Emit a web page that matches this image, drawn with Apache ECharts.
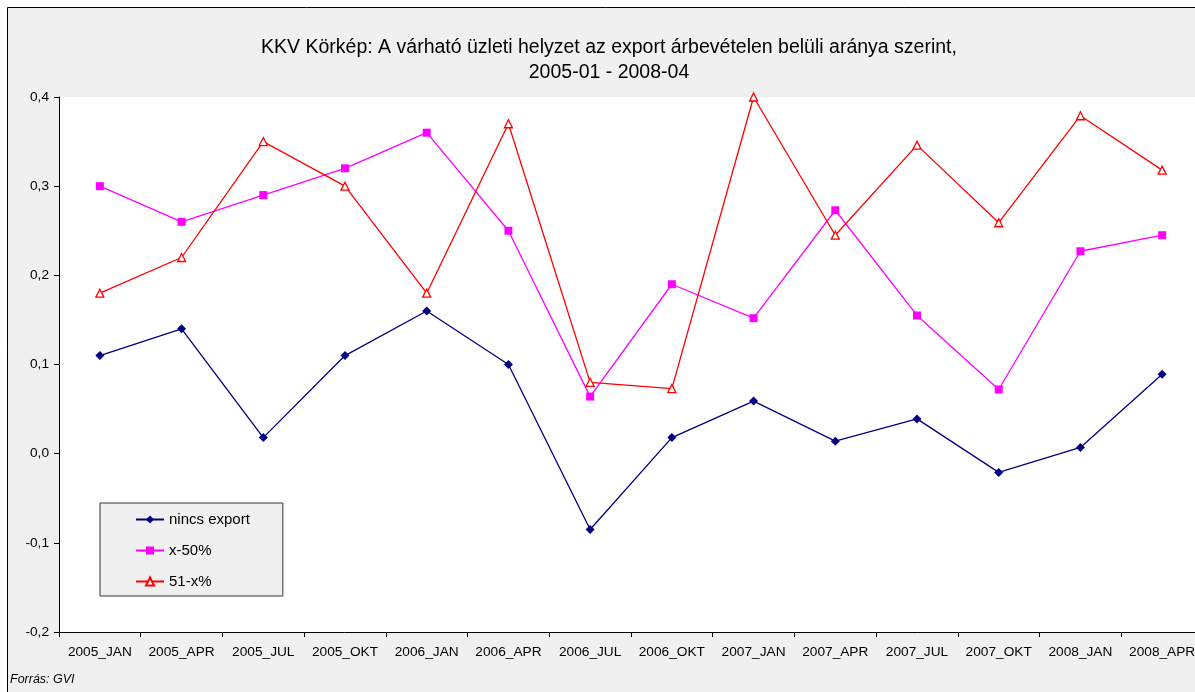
<!DOCTYPE html>
<html>
<head>
<meta charset="utf-8">
<script src="https://cdn.jsdelivr.net/npm/echarts@6/dist/echarts.min.js"></script>
<style>
  html, body { margin: 0; padding: 0; background: #fff; overflow: hidden; }
  #main { width: 1203px; height: 692px; }
</style>
</head>
<body>
<div id="main"></div>
<script>
const categories = ["2005_JAN", "2005_APR", "2005_JUL", "2005_OKT", "2006_JAN", "2006_APR", "2006_JUL",
  "2006_OKT", "2007_JAN", "2007_APR", "2007_JUL", "2007_OKT", "2008_JAN", "2008_APR"];
const nincsExport = [0.11, 0.14, 0.018, 0.11, 0.16, 0.1, -0.085, 0.018, 0.059, 0.014, 0.039, -0.021, 0.007, 0.089];
const x50 = [0.3, 0.26, 0.29, 0.32, 0.36, 0.25, 0.064, 0.19, 0.152, 0.273, 0.155, 0.072, 0.227, 0.245];
const x51 = [0.18, 0.22, 0.35, 0.3, 0.18, 0.37, 0.08, 0.073, 0.4, 0.245, 0.346, 0.259, 0.379, 0.318];

const font = "Liberation Sans, Arial, sans-serif";
const myChart = echarts.init(document.getElementById("main"));

myChart.setOption({
  animation: false,
  textStyle: { fontFamily: font },
  graphic: [
    {
      type: "rect",
      z: -10,
      shape: { x: 7.5, y: 7.5, width: 1210, height: 700 },
      style: { fill: "#f0f0f0", stroke: "#000", lineWidth: 1 },
    },
    {
      type: "text",
      left: 10,
      top: 673,
      style: { text: "Forrás: GVI", font: "italic 12.5px " + font, fill: "#000" },
    },
  ],
  title: {
    text: "KKV Körkép: A várható üzleti helyzet az export árbevételen belüli aránya szerint,\n2005-01 - 2008-04",
    left: 604,
    textAlign: "center",
    top: 30,
    textStyle: { fontSize: 19.5, fontWeight: "normal", color: "#000", lineHeight: 25, fontFamily: font },
  },
  legend: {
    orient: "vertical",
    left: 100,
    top: 503,
    padding: [9, 33, 7, 35],
    itemGap: 16,
    itemWidth: 28,
    itemHeight: 10,
    backgroundColor: "#f0f0f0",
    borderColor: "#333",
    borderWidth: 1,
    textStyle: { fontSize: 15, color: "#000", fontFamily: font },
  },
  grid: {
    left: 59,
    top: 97,
    bottom: 60,
    right: 0,
    show: true,
    backgroundColor: "#fff",
    borderWidth: 0,
  },
  xAxis: {
    type: "category",
    data: categories,
    boundaryGap: true,
    axisLine: { onZero: false, lineStyle: { color: "#000", width: 1 } },
    axisTick: { show: true, length: 5, inside: false, lineStyle: { color: "#000" } },
    axisLabel: { color: "#000", fontSize: 13.7, margin: 13, interval: 0 },
    splitLine: { show: false },
  },
  yAxis: {
    type: "value",
    min: -0.2,
    max: 0.4,
    interval: 0.1,
    axisLine: { show: true, lineStyle: { color: "#000", width: 1 } },
    axisTick: { show: true, length: 5, lineStyle: { color: "#000" } },
    axisLabel: {
      color: "#000",
      fontSize: 13.7,
      margin: 10,
      formatter: (v) => v.toFixed(1).replace(".", ","),
    },
    splitLine: { show: false },
  },
  series: [
    {
      name: "nincs export",
      type: "line",
      data: nincsExport,
      symbol: "diamond",
      symbolSize: 9,
      itemStyle: { color: "#000080" },
      lineStyle: { color: "#000080", width: 1.3 },
    },
    {
      name: "x-50%",
      type: "line",
      data: x50,
      symbol: "rect",
      symbolSize: 8,
      itemStyle: { color: "#ff00ff" },
      lineStyle: { color: "#ff00ff", width: 1.3 },
    },
    {
      name: "51-x%",
      type: "line",
      data: x51,
      symbol: "triangle",
      symbolSize: 8,
      showAllSymbol: true,
      itemStyle: { color: "#fff", borderColor: "#ff0000", borderWidth: 1.3 },
      lineStyle: { color: "#ff0000", width: 1.3 },
    },
  ],
});
</script>
</body>
</html>
